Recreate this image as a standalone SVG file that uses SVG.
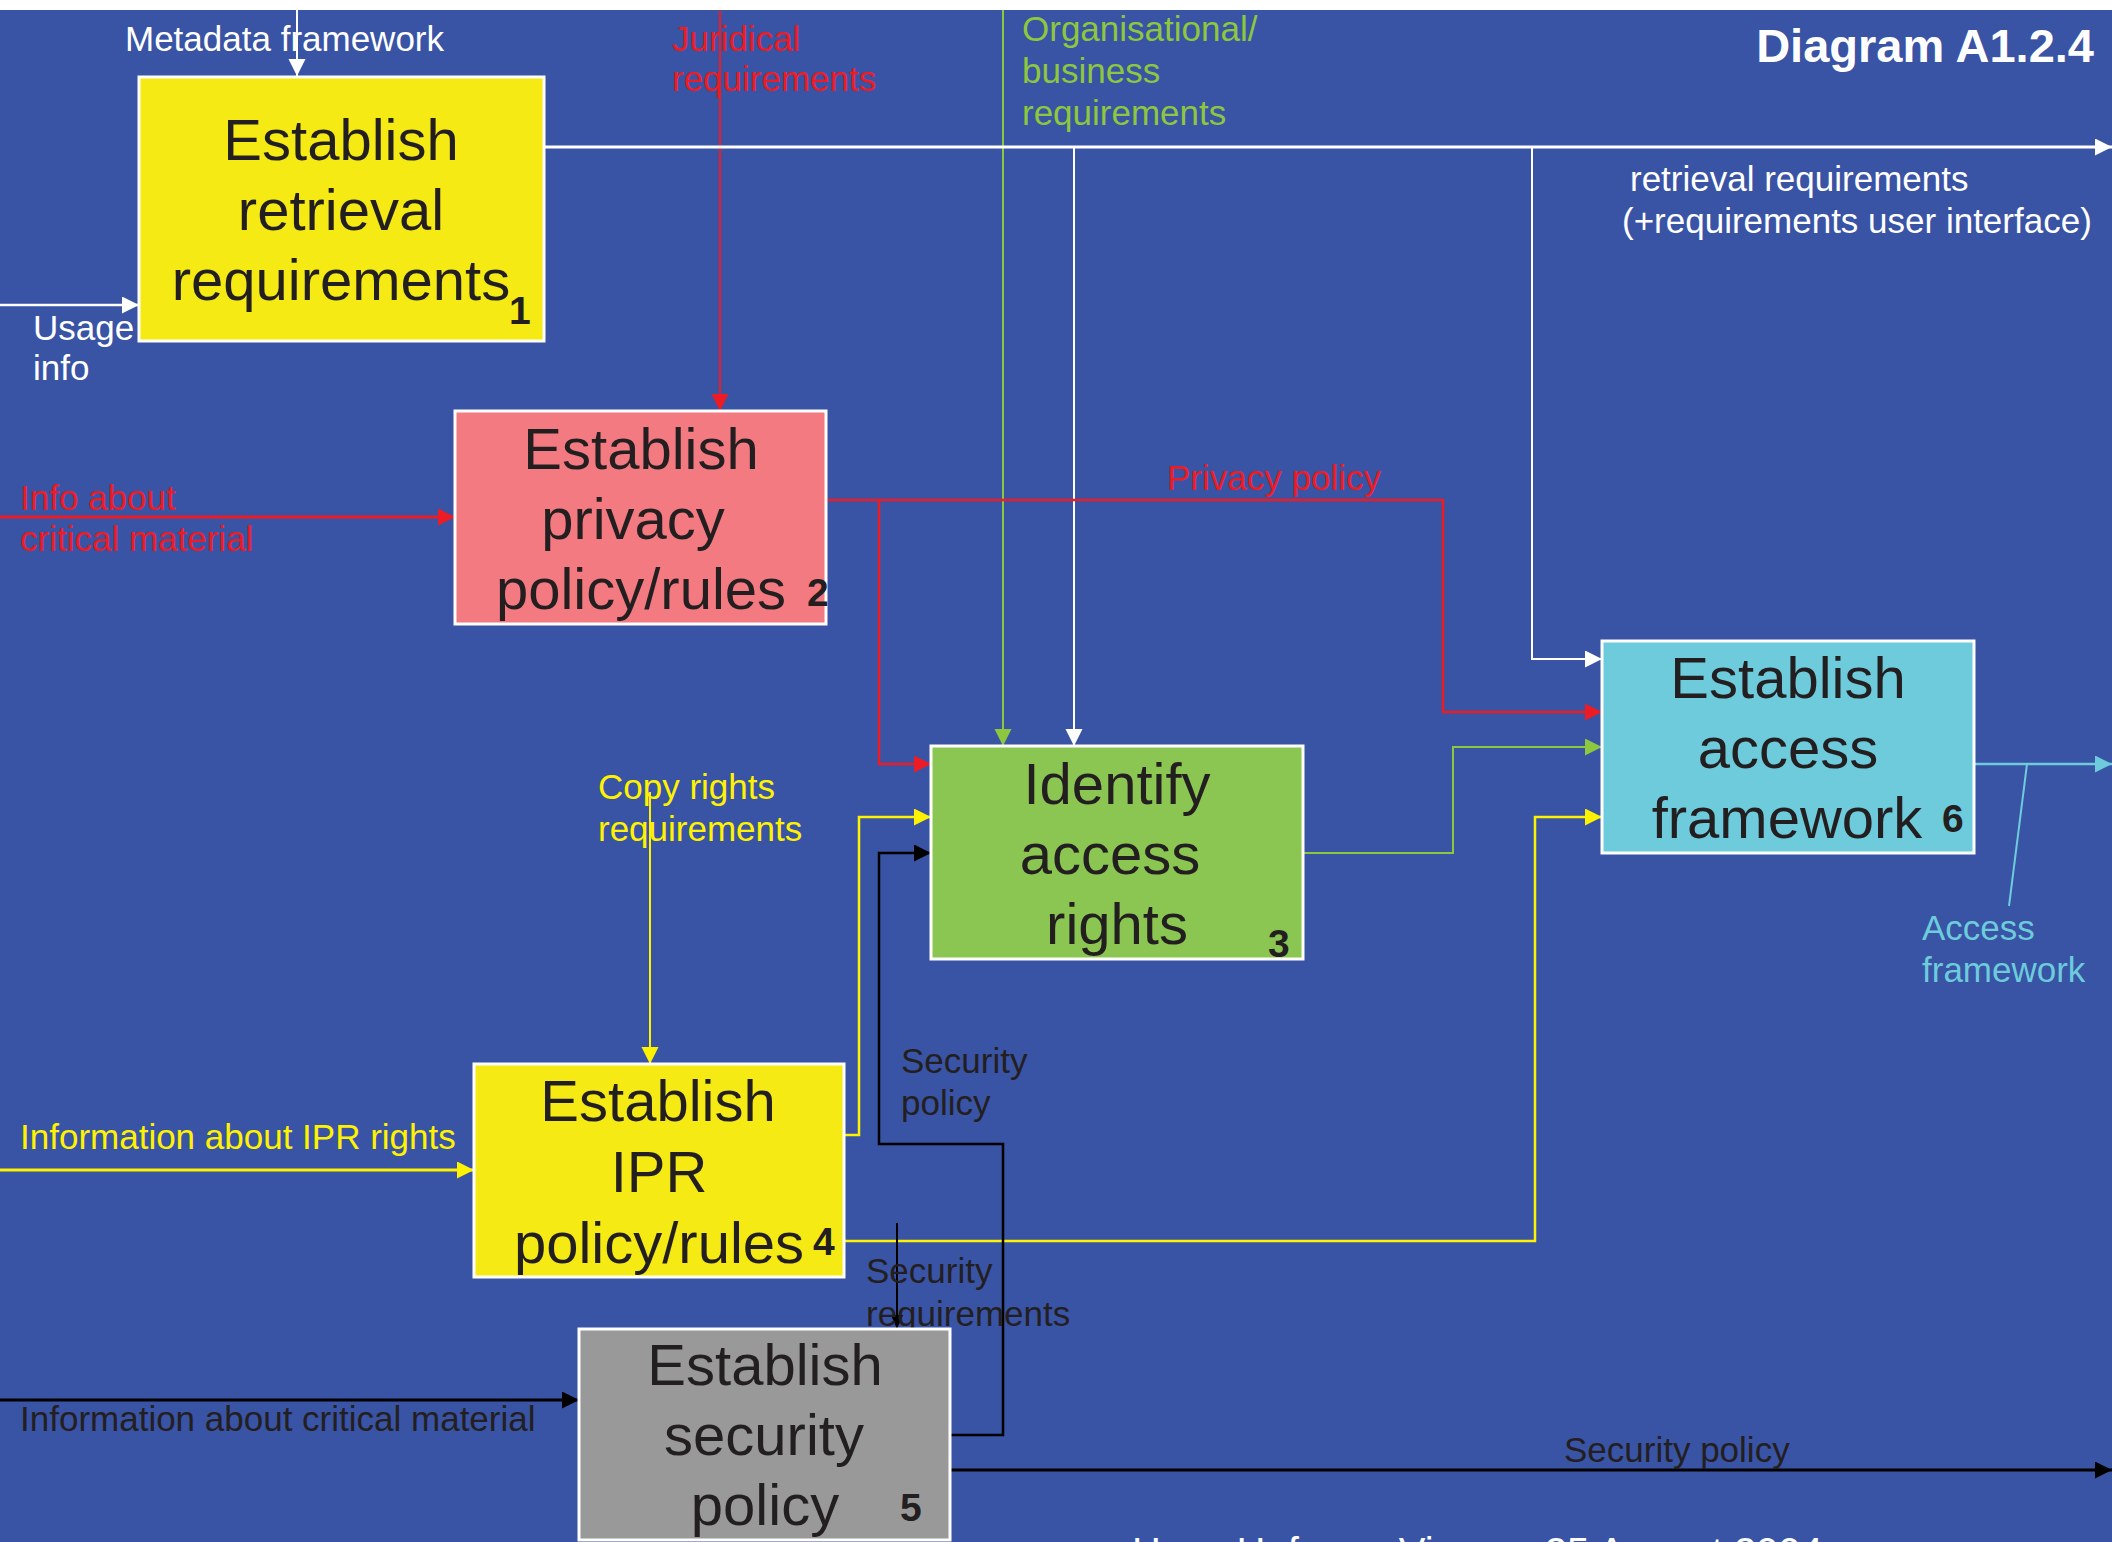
<svg xmlns="http://www.w3.org/2000/svg" width="2112" height="1542" viewBox="0 0 2112 1542">
  <style>
    text { font-family: "Liberation Sans", Arial, sans-serif; }
    .box { stroke: #FFFFFF; stroke-width: 3; }
    .title { font-size: 58px; fill: #231F20; text-anchor: middle; }
    .num { font-size: 39px; font-weight: bold; fill: #231F20; }
    .lbl { font-size: 35px; }
    .c { fill: none; stroke-linejoin: miter; }
    .w { stroke: #FFFFFF; }
    .r { stroke: #ED1C24; }
    .g { stroke: #8DC63F; }
    .y { stroke: #FFF200; }
    .k { stroke: #000000; }
    .b { stroke: #6DCBDC; }
  </style>
  <defs>
    <marker id="aw" markerUnits="userSpaceOnUse" markerWidth="18" markerHeight="18" refX="17" refY="8.5" orient="auto">
      <path d="M0,0 L17,8.5 L0,17 Z" fill="#FFFFFF"/>
    </marker>
    <marker id="ar" markerUnits="userSpaceOnUse" markerWidth="18" markerHeight="18" refX="17" refY="8.5" orient="auto">
      <path d="M0,0 L17,8.5 L0,17 Z" fill="#ED1C24"/>
    </marker>
    <marker id="ag" markerUnits="userSpaceOnUse" markerWidth="18" markerHeight="18" refX="17" refY="8.5" orient="auto">
      <path d="M0,0 L17,8.5 L0,17 Z" fill="#8DC63F"/>
    </marker>
    <marker id="ay" markerUnits="userSpaceOnUse" markerWidth="18" markerHeight="18" refX="17" refY="8.5" orient="auto">
      <path d="M0,0 L17,8.5 L0,17 Z" fill="#FFF200"/>
    </marker>
    <marker id="ak" markerUnits="userSpaceOnUse" markerWidth="18" markerHeight="18" refX="17" refY="8.5" orient="auto">
      <path d="M0,0 L17,8.5 L0,17 Z" fill="#000000"/>
    </marker>
    <marker id="aks" markerUnits="userSpaceOnUse" markerWidth="15" markerHeight="13" refX="14" refY="6" orient="auto">
      <path d="M0,0 L14,6 L0,12 Z" fill="#000000"/>
    </marker>
    <marker id="ab" markerUnits="userSpaceOnUse" markerWidth="18" markerHeight="18" refX="17" refY="8.5" orient="auto">
      <path d="M0,0 L17,8.5 L0,17 Z" fill="#6DCBDC"/>
    </marker>
  </defs>

  <!-- page -->
  <rect x="0" y="0" width="2112" height="1542" fill="#FFFFFF"/>
  <rect x="0" y="10" width="2112" height="1532" fill="#3953A5"/>

  <!-- connectors -->
  <g id="connectors">
    <path class="c w" stroke-width="2" d="M297,10 V76" marker-end="url(#aw)"/>
    <path class="c w" stroke-width="2.5" d="M0,305 H139" marker-end="url(#aw)"/>
    <path class="c r" stroke-width="2" d="M720,10 V411" marker-end="url(#ar)"/>
    <path class="c g" stroke-width="2" d="M1003,10 V746" marker-end="url(#ag)"/>
    <path class="c w" stroke-width="3" d="M544,147 H2112" marker-end="url(#aw)"/>
    <path class="c w" stroke-width="2" d="M1074,147 V746" marker-end="url(#aw)"/>
    <path class="c w" stroke-width="2" d="M1532,147 V659 H1602" marker-end="url(#aw)"/>
    <path class="c r" stroke-width="3" d="M0,517 H455" marker-end="url(#ar)"/>
    <path class="c r" stroke-width="2.5" d="M826,500 H1443 V712 H1602" marker-end="url(#ar)"/>
    <path class="c r" stroke-width="2.5" d="M879,500 V764 H931" marker-end="url(#ar)"/>
    <path class="c y" stroke-width="2" d="M650,792 V1064" marker-end="url(#ay)"/>
    <path class="c y" stroke-width="3" d="M0,1170 H474" marker-end="url(#ay)"/>
    <path class="c y" stroke-width="2.5" d="M844,1135 H859 V817 H931" marker-end="url(#ay)"/>
    <path class="c y" stroke-width="2.5" d="M844,1241 H1535 V817 H1602" marker-end="url(#ay)"/>
    <path class="c g" stroke-width="2" d="M1303,853 H1453 V747 H1602" marker-end="url(#ag)"/>
    <path class="c b" stroke-width="2.5" d="M1974,764 H2112" marker-end="url(#ab)"/>
    <path class="c b" stroke-width="2" d="M2027,764 L2009,906"/>
    <path class="c k" stroke-width="2.5" d="M950,1435 H1003 V1144 H879 V853 H931" marker-end="url(#ak)"/>
    <path class="c k" stroke-width="2" d="M897,1223 V1329" marker-end="url(#aks)"/>
    <path class="c k" stroke-width="3" d="M0,1400 H579" marker-end="url(#ak)"/>
    <path class="c k" stroke-width="3" d="M950,1470 H2112" marker-end="url(#ak)"/>
  </g>

  <!-- connector labels -->
  <g id="labels" class="lbl">
    <text x="125" y="51" fill="#FFFFFF">Metadata framework</text>
    <text x="672" y="51" fill="#ED1C24">Juridical</text>
    <text x="672" y="91" fill="#ED1C24">requirements</text>
    <text x="1022" y="41" fill="#8DC63F">Organisational/</text>
    <text x="1022" y="83" fill="#8DC63F">business</text>
    <text x="1022" y="125" fill="#8DC63F">requirements</text>
    <text x="1630" y="191" fill="#FFFFFF">retrieval requirements</text>
    <text x="1622" y="233" fill="#FFFFFF">(+requirements user interface)</text>
    <text x="33" y="340" fill="#FFFFFF">Usage</text>
    <text x="33" y="380" fill="#FFFFFF">info</text>
    <text x="1167" y="490" fill="#ED1C24">Privacy policy</text>
    <text x="20" y="510" fill="#ED1C24">Info about</text>
    <text x="20" y="551" fill="#ED1C24">critical material</text>
    <text x="598" y="799" fill="#FFF200">Copy rights</text>
    <text x="598" y="841" fill="#FFF200">requirements</text>
    <text x="1922" y="940" fill="#6DCBDC">Access</text>
    <text x="1922" y="982" fill="#6DCBDC">framework</text>
    <text x="901" y="1073" fill="#231F20">Security</text>
    <text x="901" y="1115" fill="#231F20">policy</text>
    <text x="20" y="1149" fill="#FFF200">Information about IPR rights</text>
    <text x="866" y="1283" fill="#231F20">Security</text>
    <text x="866" y="1326" fill="#231F20">requirements</text>
    <text x="20" y="1431" fill="#231F20">Information about critical material</text>
    <text x="1564" y="1462" fill="#231F20">Security policy</text>
  </g>

  <!-- process boxes -->
  <g id="node1">
    <rect class="box" x="139" y="77" width="405" height="264" fill="#F5EA14"/>
    <text class="title" x="341" y="160">Establish</text>
    <text class="title" x="341" y="230">retrieval</text>
    <text class="title" x="341" y="300">requirements</text>
    <text class="num" x="509" y="324">1</text>
  </g>
  <g id="node2">
    <rect class="box" x="455" y="411" width="371" height="213" fill="#F27A80"/>
    <text class="title" x="641" y="469">Establish</text>
    <text class="title" x="633" y="539">privacy</text>
    <text class="title" x="641" y="609">policy/rules</text>
    <text class="num" x="807" y="606">2</text>
  </g>
  <g id="node3">
    <rect class="box" x="931" y="746" width="372" height="213" fill="#8BC653"/>
    <text class="title" x="1117" y="804">Identify</text>
    <text class="title" x="1110" y="874">access</text>
    <text class="title" x="1117" y="944">rights</text>
    <text class="num" x="1268" y="957">3</text>
  </g>
  <g id="node4">
    <rect class="box" x="474" y="1064" width="370" height="213" fill="#F5EA14"/>
    <text class="title" x="658" y="1121">Establish</text>
    <text class="title" x="659" y="1192">IPR</text>
    <text class="title" x="659" y="1263">policy/rules</text>
    <text class="num" x="813" y="1255">4</text>
  </g>
  <g id="node5">
    <rect class="box" x="579" y="1329" width="371" height="211" fill="#999999"/>
    <text class="title" x="765" y="1385">Establish</text>
    <text class="title" x="764" y="1455">security</text>
    <text class="title" x="765" y="1525">policy</text>
    <text class="num" x="900" y="1521">5</text>
  </g>
  <g id="node6">
    <rect class="box" x="1602" y="641" width="372" height="212" fill="#6DCBDC"/>
    <text class="title" x="1788" y="698">Establish</text>
    <text class="title" x="1788" y="768">access</text>
    <text class="title" x="1787" y="838">framework</text>
    <text class="num" x="1942" y="832">6</text>
  </g>

  <!-- heading and footer -->
  <text x="2094" y="62" font-size="47" font-weight="bold" fill="#FFFFFF" text-anchor="end">Diagram A1.2.4</text>
  <text x="1132" y="1566" font-size="40" fill="#FFFFFF">Hans Hofman, Vienna, 25 August 2004</text>
</svg>
